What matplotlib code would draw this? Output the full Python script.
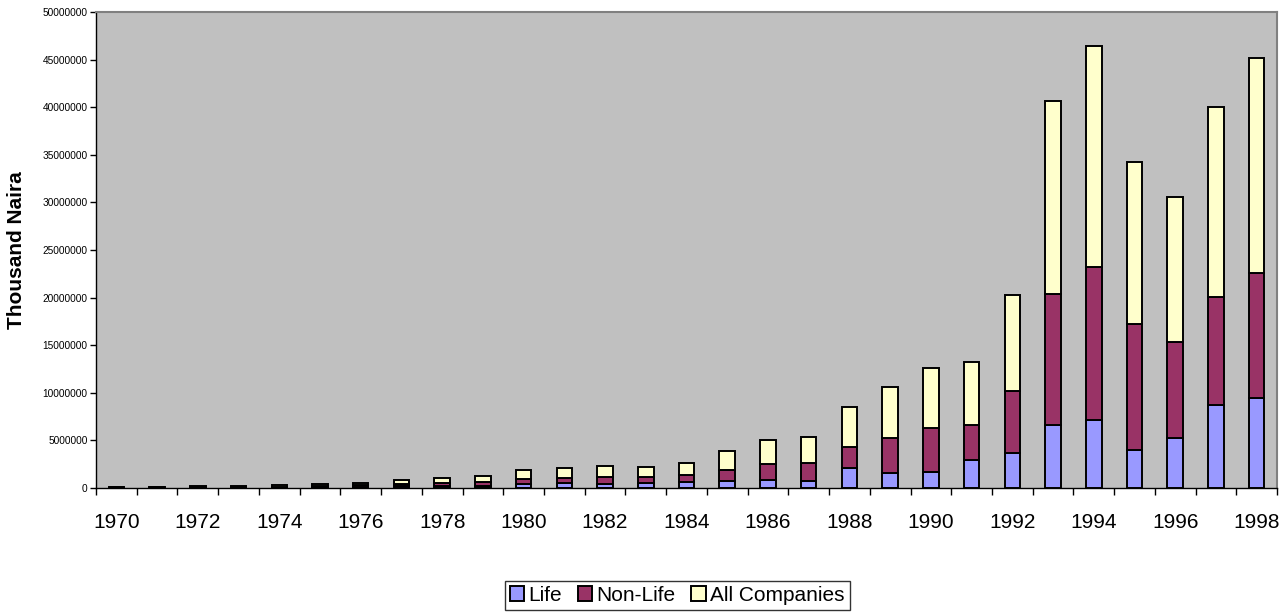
import matplotlib
matplotlib.use("Agg")
import matplotlib.pyplot as plt
import numpy as np

plt.rcParams['font.family'] = ['Liberation Sans', 'DejaVu Sans']

years = list(range(1970, 1999))

# thousand naira
life = [25000, 30000, 35000, 40000, 60000, 80000, 110000, 160000, 210000, 260000,
        420000, 490000, 450000, 560000, 630000, 740000, 810000, 770000, 2140000, 1610000,
        1710000, 2940000, 3640000, 6620000, 7140000, 3990000, 5220000, 8720000, 9420000]
non_life = [35000, 40000, 45000, 60000, 80000, 110000, 165000, 250000, 315000, 390000,
            525000, 590000, 740000, 560000, 700000, 1150000, 1680000, 1890000, 2130000, 3680000,
            4620000, 3680000, 6550000, 13730000, 16110000, 13200000, 10080000, 11380000, 13130000]
all_companies = [60000, 70000, 80000, 100000, 140000, 190000, 275000, 410000, 525000, 650000,
                 945000, 990000, 1120000, 1120000, 1330000, 2000000, 2550000, 2660000, 4270000, 5280000,
                 6310000, 6580000, 10080000, 20300000, 23180000, 17050000, 15230000, 19950000, 22580000]

fig = plt.figure(figsize=(12.85, 6.13), dpi=100)
ax = fig.add_axes([0.0747, 0.2039, 0.9191, 0.7765])
ax.set_facecolor('#C0C0C0')

x = np.arange(len(years))
w = 0.38
lw = 1.4
b1 = ax.bar(x, life, w, color='#9999FF', edgecolor='black', linewidth=lw, label='Life')
b2 = ax.bar(x, non_life, w, bottom=life, color='#993366', edgecolor='black', linewidth=lw,
            label='Non-Life')
bottom2 = np.array(life) + np.array(non_life)
b3 = ax.bar(x, all_companies, w, bottom=bottom2, color='#FFFFCC', edgecolor='black',
            linewidth=lw, label='All Companies')

ax.set_xlim(-0.5, len(years) - 0.5)
ax.set_ylim(0, 50000000)
ax.set_yticks(np.arange(0, 50000001, 5000000))
ax.set_yticklabels([str(v) for v in range(0, 50000001, 5000000)], fontsize=7.3)

ax.set_xticks(x[::2])
ax.set_xticklabels([str(y) for y in years[::2]], fontsize=15)
ax.set_xticks(np.arange(-0.5, len(years), 1), minor=True)
ax.tick_params(axis='x', which='major', length=0, pad=18)
ax.tick_params(axis='x', which='minor', length=5, width=1, direction='out')
ax.tick_params(axis='y', length=4, width=1, direction='out', pad=2)

for s in ['top', 'right']:
    ax.spines[s].set_color('#808080')
    ax.spines[s].set_linewidth(1.5)
for s in ['left', 'bottom']:
    ax.spines[s].set_color('black')
    ax.spines[s].set_linewidth(1)

ax.set_ylabel('Thousand Naira', fontsize=15, fontweight='bold')
ax.yaxis.set_label_coords(-0.059, 0.5)

leg = fig.legend(handles=[b1, b2, b3], loc='center', bbox_to_anchor=(0.527, 0.029), ncol=3,
                 fontsize=15, frameon=True, fancybox=False, edgecolor='black',
                 handlelength=0.7, handleheight=0.7, handletextpad=0.2,
                 columnspacing=0.75, borderpad=0.25, borderaxespad=0)
leg.get_frame().set_linewidth(1)

fig.savefig('out.png', dpi=100)
